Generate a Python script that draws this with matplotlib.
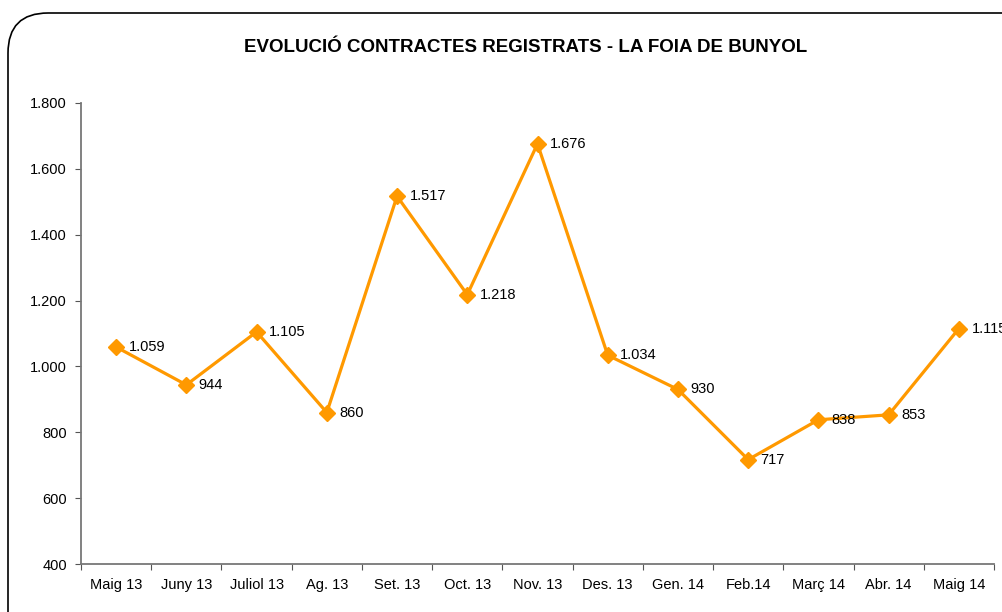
import matplotlib
matplotlib.use("Agg")
import matplotlib.pyplot as plt
from matplotlib.patches import FancyBboxPatch
from matplotlib.ticker import FuncFormatter, FixedLocator, NullFormatter

plt.rcParams['font.family'] = ['Liberation Sans', 'DejaVu Sans']

months = ['Maig 13', 'Juny 13', 'Juliol 13', 'Ag. 13', 'Set. 13', 'Oct. 13', 'Nov. 13',
          'Des. 13', 'Gen. 14', 'Feb.14', 'Març 14', 'Abr. 14', 'Maig 14']
contracts = [1059, 944, 1105, 860, 1517, 1218, 1676, 1034, 930, 717, 838, 853, 1115]

def dots(v):
    return f"{int(v):,}".replace(",", ".")

fig = plt.figure(figsize=(10.02, 6.12), dpi=100)
W, H = 1002, 612

# rounded frame running off the right and bottom edge
frame = FancyBboxPatch((8 / W, -0.1), 1.2, (612 - 13) / H + 0.1,
                       boxstyle="round,pad=0,rounding_size=0.04",
                       transform=fig.transFigure, fill=False,
                       edgecolor='black', linewidth=1.2, mutation_aspect=W / H)
fig.patches.append(frame)

ax = fig.add_axes([81 / W, 1 - 564 / H, (994 - 81) / W, (564 - 103) / H])
x = list(range(len(months)))
ax.plot(x, contracts, color='#FF9900', linewidth=2.3, marker='D', markersize=8,
        clip_on=False, zorder=3)
for xi, v in zip(x, contracts):
    ax.annotate(dots(v), (xi, v), xytext=(9, 0), textcoords='offset points',
                va='center', ha='left', fontsize=10.5, color='black',
                annotation_clip=False)

ax.set_xlim(-0.5, len(months) - 0.5)
ax.set_ylim(400, 1800)
ax.set_yticks(range(400, 1801, 200))
ax.yaxis.set_major_formatter(FuncFormatter(lambda v, p: dots(v)))
ax.xaxis.set_major_locator(FixedLocator([i - 0.5 for i in range(len(months) + 1)]))
ax.xaxis.set_major_formatter(NullFormatter())
ax.xaxis.set_minor_locator(FixedLocator(x))
ax.set_xticklabels(months, minor=True)
ax.tick_params(axis='x', which='minor', length=0, pad=10, labelsize=10.5)
ax.tick_params(axis='x', which='major', length=4, color='#555555', direction='out')
ax.tick_params(axis='y', length=4, color='#555555', labelsize=10.5, pad=6)

for s in ['top', 'right']:
    ax.spines[s].set_visible(False)
for s in ['left', 'bottom']:
    ax.spines[s].set_color('#777777')
    ax.spines[s].set_linewidth(1.3)

fig.text(526 / W, 1 - 48 / H, 'EVOLUCIÓ CONTRACTES REGISTRATS - LA FOIA DE BUNYOL',
         ha='center', va='center', fontsize=13.5, fontweight='bold')

fig.savefig('out.png', dpi=100)
